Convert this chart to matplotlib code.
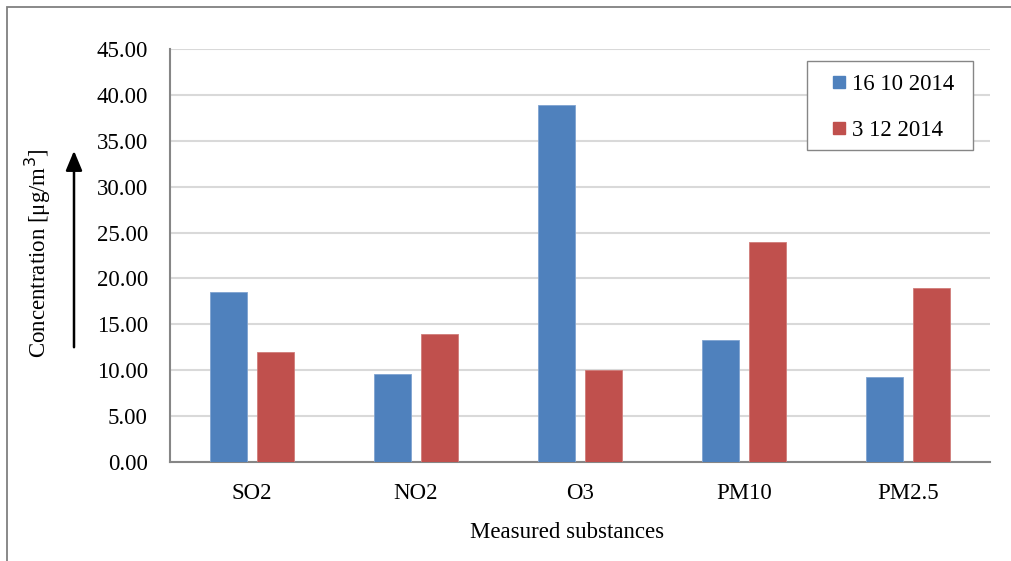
import matplotlib
matplotlib.use("Agg")
import matplotlib.pyplot as plt
from matplotlib.patches import Rectangle
from matplotlib.lines import Line2D
import numpy as np

plt.rcParams['font.family'] = ['Liberation Serif', 'DejaVu Serif']

categories = ["SO2", "NO2", "O3", "PM10", "PM2.5"]
series_names = ["16 10 2014", "3 12 2014"]
values_oct = [18.5, 9.6, 38.85, 13.3, 9.25]
values_dec = [12.0, 14.0, 10.0, 24.0, 18.95]
yticks = [0, 5, 10, 15, 20, 25, 30, 35, 40, 45]

BLUE = "#4F81BD"
RED = "#C0504D"
FS = 16.5

W, H = 1012, 561
fig = plt.figure(figsize=(W / 100, H / 100), dpi=100)
ax = fig.add_axes([170 / W, 1 - 462 / H, (990 - 170) / W, (462 - 49) / H])

x = np.arange(len(categories))
bw = 0.226
off = 0.143
ax.bar(x - off, values_oct, bw, color=BLUE, edgecolor="#7FA3D0", linewidth=0.6,
       label=series_names[0], zorder=3)
ax.bar(x + off, values_dec, bw, color=RED, edgecolor="#D07C79", linewidth=0.6,
       label=series_names[1], zorder=3)

ax.set_xlim(-0.5, len(categories) - 0.5)
ax.set_ylim(0, 45)
ax.set_yticks(yticks)
ax.set_yticklabels([f"{v:.2f}" for v in yticks])
ax.set_xticks(x)
ax.set_xticklabels(categories)
ax.tick_params(axis="both", length=0, labelsize=FS, colors="black")
ax.tick_params(axis="y", pad=16)
ax.tick_params(axis="x", pad=15)

ax.yaxis.grid(True, color="#D9D9D9", linewidth=1.5, zorder=0)
ax.set_axisbelow(True)
for s in ["top", "right"]:
    ax.spines[s].set_visible(False)
for s in ["left", "bottom"]:
    ax.spines[s].set_color("#868686")
    ax.spines[s].set_linewidth(1.5)

# legend box drawn separately so its width can be fixed
ax.add_artist(Rectangle((807 / W, 1 - 150 / H), (973 - 807) / W, (150 - 61) / H,
                        transform=fig.transFigure, facecolor="white",
                        edgecolor="#868686", linewidth=1.0, zorder=4,
                        clip_on=False))

# square swatches in the legend
handles = [Line2D([], [], marker="s", linestyle="none", markersize=8.6,
                  markerfacecolor=c, markeredgecolor=c) for c in (BLUE, RED)]
leg = ax.legend(handles, series_names, loc="upper left",
                bbox_to_anchor=(807 / W, 1 - 63 / H),
                bbox_transform=fig.transFigure, fontsize=FS, frameon=False,
                handlelength=1.8, handletextpad=-0.33,
                labelspacing=1.05, borderpad=0.5, borderaxespad=0)
leg.set_zorder(6)

fig.text(567 / W, 1 - 533 / H, "Measured substances", ha="center", va="center",
         fontsize=FS)
fig.text(38 / W, 1 - 253 / H, "Concentration [μg/m$^3$]", rotation=90,
         ha="center", va="center", fontsize=FS)
fig.add_artist(plt.Annotation("", xy=(74 / W, 1 - 148 / H), xytext=(74 / W, 1 - 350 / H),
                              xycoords="figure fraction", textcoords="figure fraction",
                              arrowprops=dict(arrowstyle="-|>,head_length=1.2,head_width=0.5",
                                              color="black", lw=1.8)))

fig.add_artist(Rectangle((7 / W, -0.05), 1.2, 1.05 - 7 / H,
                         transform=fig.transFigure, fill=False,
                         edgecolor="#808080", linewidth=1.3))

fig.savefig("out.png", dpi=100)
